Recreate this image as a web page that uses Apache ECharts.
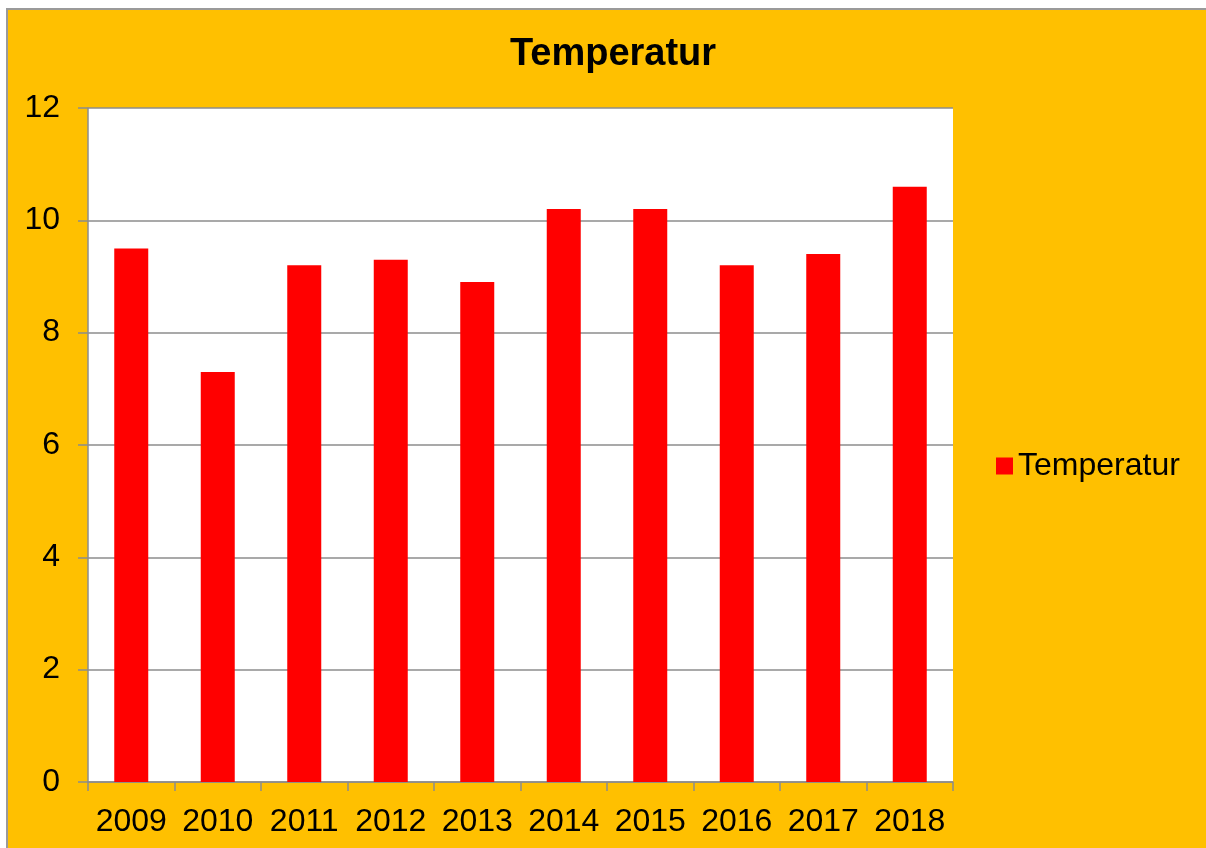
<!DOCTYPE html>
<html>
<head>
<meta charset="utf-8">
<script src="https://cdn.jsdelivr.net/npm/echarts@6/dist/echarts.min.js"></script>
<style>
  html, body { margin: 0; padding: 0; background: #fff; }
  #frame {
    position: absolute; left: 6px; top: 8px; width: 1300px; height: 900px;
    background: #FFC000; border-left: 2px solid #9a9a9a; border-top: 2px solid #9a9a9a;
  }
  #main { position: absolute; left: 0; top: 0; width: 1206px; height: 848px; }
</style>
</head>
<body>
<div id="frame"></div>
<div id="main"></div>
<script>
// data
const years = ['2009', '2010', '2011', '2012', '2013', '2014', '2015', '2016', '2017', '2018']
const temperatur = [9.5, 7.3, 9.2, 9.3, 8.9, 10.2, 10.2, 9.2, 9.4, 10.6]
const seriesName = 'Temperatur'

const font = "'Liberation Sans', Arial, sans-serif"
const gray = '#8c8c8c'

const chart = echarts.init(document.getElementById('main'), null, { renderer: 'canvas' })
chart.setOption({
  backgroundColor: 'transparent',
  animation: false,
  title: {
    text: 'Temperatur',
    left: 608,
    textAlign: 'center',
    top: 31,
    textStyle: { fontFamily: font, fontSize: 38, fontWeight: 'bold', color: '#000' }
  },
  legend: {
    data: [seriesName],
    left: 996,
    top: 450,
    padding: 0,
    icon: 'rect',
    itemWidth: 17,
    itemHeight: 17,
    textStyle: { fontFamily: font, fontSize: 32, color: '#000' }
  },
  grid: {
    left: 88,
    top: 108,
    right: 253,
    bottom: 66,
    show: true,
    backgroundColor: '#fff',
    borderWidth: 0
  },
  xAxis: {
    type: 'category',
    data: years,
    axisLine: { lineStyle: { color: gray, width: 1.5 } },
    axisTick: { show: true, interval: 0, length: 9, lineStyle: { color: gray, width: 1.5 } },
    axisLabel: { interval: 0, margin: 24, fontFamily: font, fontSize: 32, color: '#000' }
  },
  yAxis: {
    type: 'value',
    min: 0,
    max: 12,
    interval: 2,
    axisLine: { show: true, lineStyle: { color: gray, width: 1.5 } },
    axisTick: { show: true, inside: false, length: 10, lineStyle: { color: gray, width: 1.5 } },
    axisLabel: { margin: 28, fontFamily: font, fontSize: 32, color: '#000' },
    splitLine: { lineStyle: { color: gray, width: 1.5 } }
  },
  series: [{
    name: seriesName,
    type: 'bar',
    data: temperatur,
    barWidth: 34,
    itemStyle: { color: '#FF0000' }
  }]
})
</script>
</body>
</html>
